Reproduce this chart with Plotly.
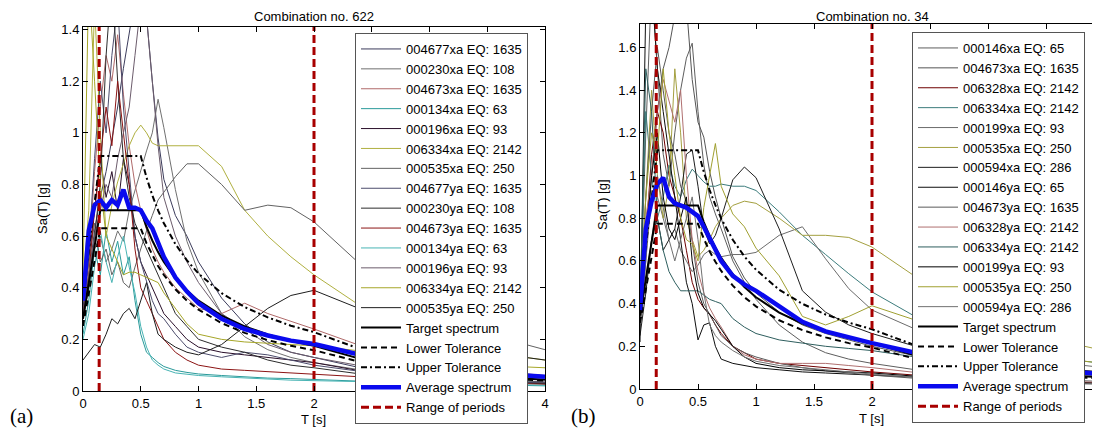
import plotly.graph_objects as go

# ---------------- data ----------------
T = [0, 0.05, 0.1, 0.15, 0.2, 0.25, 0.3, 0.35, 0.4, 0.45, 0.5,
     0.55, 0.6, 0.65, 0.7, 0.8, 0.9, 1.0, 1.2, 1.4, 1.6, 1.8, 2.0,
     2.5, 3.0, 3.5, 4.0]

PERIOD_RANGE = [0.14, 2.0]

X_TICKS = [0, 0.5, 1, 1.5, 2, 2.5, 3, 3.5, 4]
A_XTICK_TEXT = ["0", "0.5", "1", "1.5", "2", "", "", "", "4"]
B_XTICK_TEXT = ["0", "0.5", "1", "1.5", "2", "", "", "", ""]

# ---- (a) Combination no. 622 ----
A_NAMES = ["004677xa EQ: 1635", "000230xa EQ: 108", "004673xa EQ: 1635", "000134xa EQ: 63",
           "000196xa EQ: 93", "006334xa EQ: 2142", "000535xa EQ: 250", "004677ya EQ: 1635",
           "000230ya EQ: 108", "004673ya EQ: 1635", "000134ya EQ: 63", "000196ya EQ: 93",
           "006334ya EQ: 2142", "000535ya EQ: 250"]
A_COLORS = ["#3c3c5c", "#707070", "#b06a6a", "#2a9a9a", "#2a0f2a", "#b0b040", "#626262",
            "#4c4c6c", "#2c2c2c", "#8c1414", "#48b4b4", "#6c5c6c", "#a6a628", "#1e1e1e"]
A1 = [0.30,0.45,0.62,0.75,0.85,0.98,1.10,1.25,1.38,1.52,1.60, 1.45,1.20,0.98,0.82, 0.68,0.60,0.50, 0.36,0.26,0.19,0.15,0.13, 0.08,0.06,0.045,0.035]
A2 = [0.28,0.40,0.55,0.60,0.50,0.55,0.62,0.58,0.70,0.78,0.85, 0.93,1.00,1.13,1.02, 0.78,0.58,0.46, 0.30,0.21,0.16,0.13,0.11, 0.075,0.055,0.042,0.033]
A3 = [0.30,0.50,0.85,1.10,1.30,1.20,1.38,1.15,0.95,0.80,0.70, 0.62,0.55,0.50,0.46, 0.40,0.36,0.32, 0.30,0.34,0.30,0.27,0.24, 0.16,0.11,0.08,0.06]
A4 = [0.22,0.35,0.55,0.45,0.62,0.50,0.58,0.45,0.52,0.35,0.22, 0.15,0.13,0.11,0.095, 0.08,0.072,0.066, 0.06,0.055,0.05,0.048,0.045, 0.035,0.028,0.024,0.02]
A5 = [0.32,0.50,0.70,0.90,0.75,0.85,0.70,0.90,0.80,0.60,0.50, 0.45,0.40,0.35,0.30, 0.25,0.20,0.17, 0.15,0.14,0.13,0.12,0.11, 0.07,0.05,0.04,0.03]
A6 = [0.42,0.70,1.50,1.00,0.60,0.72,0.81,0.88,0.95,1.00,1.03, 1.00,0.96,0.95,0.95, 0.95,0.95,0.95, 0.87,0.70,0.60,0.52,0.45, 0.30,0.20,0.15,0.12]
A7 = [0.35,0.50,0.65,0.50,0.55,0.45,0.50,0.42,0.40,0.48,0.55, 0.62,0.68,0.74,0.77, 0.83,0.88,0.88, 0.80,0.70,0.72,0.71,0.655, 0.45,0.30,0.22,0.16]
A8 = [0.30,0.55,0.90,1.20,1.00,1.30,1.50,1.10,0.85,0.60,0.50, 0.42,0.35,0.30,0.28, 0.22,0.17,0.15, 0.13,0.15,0.14,0.12,0.10, 0.07,0.05,0.04,0.03]
A9 = [0.28,0.40,0.60,0.80,1.30,1.60,1.20,0.90,0.75,0.65,0.60, 0.55,0.50,0.45,0.40, 0.30,0.25,0.20, 0.17,0.15,0.12,0.10,0.09, 0.06,0.045,0.035,0.028]
A10 = [0.30,0.45,0.70,0.90,1.10,0.95,1.20,1.00,0.80,0.55,0.40, 0.35,0.30,0.25,0.20, 0.15,0.12,0.10, 0.085,0.08,0.075,0.07,0.065, 0.05,0.04,0.032,0.026]
A11 = [0.20,0.30,0.48,0.62,0.50,0.42,0.52,0.60,0.48,0.38,0.25, 0.17,0.12,0.10,0.085, 0.07,0.065,0.06, 0.055,0.05,0.045,0.042,0.04, 0.035,0.03,0.026,0.022]
A12 = [0.30,0.45,0.60,0.70,0.80,0.75,0.90,1.00,1.10,1.30,1.50, 1.45,1.20,0.95,0.75, 0.60,0.50,0.42, 0.30,0.24,0.18,0.15,0.13, 0.09,0.07,0.055,0.045]
A13 = [0.45,1.60,1.20,0.80,0.60,0.55,0.50,0.45,0.46,0.46,0.45, 0.44,0.43,0.42,0.38, 0.32,0.26,0.22, 0.20,0.19,0.185,0.18,0.175, 0.15,0.12,0.10,0.09]
A14 = [0.12,0.15,0.18,0.17,0.22,0.28,0.26,0.30,0.32,0.28,0.35, 0.42,0.30,0.22,0.20, 0.17,0.15,0.14, 0.18,0.25,0.32,0.37,0.39, 0.30,0.20,0.15,0.12]
A_SERIES = [A1, A2, A3, A4, A5, A6, A7, A8, A9, A10, A11, A12, A13, A14]
A_TARGET = [0.28,0.42,0.56,0.70,0.70,0.70,0.70,0.70,0.70,0.70,0.70, 0.636,0.583,0.538,0.50, 0.4375,0.389,0.35, 0.292,0.25,0.219,0.194,0.175, 0.112,0.078,0.057,0.044]
A_LOWER = [0.252,0.378,0.504,0.63,0.63,0.63,0.63,0.63,0.63,0.63,0.63, 0.572,0.525,0.484,0.45, 0.394,0.35,0.315, 0.263,0.225,0.197,0.175,0.158, 0.101,0.07,0.051,0.04]
A_UPPER = [0.364,0.546,0.728,0.91,0.91,0.91,0.91,0.91,0.91,0.91,0.91, 0.827,0.758,0.70,0.65, 0.569,0.506,0.455, 0.379,0.325,0.285,0.253,0.228, 0.146,0.101,0.074,0.057]
A_AVERAGE = [0.35,0.62,0.72,0.74,0.71,0.74,0.72,0.78,0.71,0.71,0.70, 0.66,0.63,0.58,0.52, 0.44,0.385,0.34, 0.28,0.24,0.215,0.195,0.182, 0.13,0.095,0.07,0.055]

# ---- (b) Combination no. 34 ----
B_NAMES = ["000146xa EQ: 65", "004673xa EQ: 1635", "006328xa EQ: 2142", "006334xa EQ: 2142",
           "000199xa EQ: 93", "000535xa EQ: 250", "000594xa EQ: 286", "000146ya EQ: 65",
           "004673ya EQ: 1635", "006328ya EQ: 2142", "006334ya EQ: 2142", "000199ya EQ: 93",
           "000535ya EQ: 250", "000594ya EQ: 286"]
B_COLORS = ["#5e5e5e", "#555555", "#6e0000", "#3c7c7c", "#6c6c6c", "#a4a040", "#1e1e1e",
            "#0e0e0e", "#5a5a5a", "#b07070", "#2e5e5e", "#000000", "#a0a030", "#707070"]
B1 = [0.35,1.20,1.90,1.50,1.10,0.95,1.20,1.40,1.55,1.62,1.30, 1.05,0.90,0.82,0.75, 0.60,0.50,0.42, 0.30,0.22,0.17,0.14,0.12, 0.08,0.06,0.045,0.035]
B2 = [0.30,0.60,1.00,1.30,1.50,1.60,1.75,1.85,1.80,1.45,1.25, 1.18,1.02,0.90,0.80, 0.62,0.52,0.45, 0.36,0.30,0.26,0.23,0.20, 0.14,0.10,0.08,0.06]
B3 = [0.30,0.70,1.10,1.30,1.20,1.00,0.90,0.80,0.65,0.50,0.42, 0.38,0.35,0.30,0.26, 0.20,0.17,0.14, 0.12,0.11,0.10,0.09,0.08, 0.06,0.045,0.035,0.028]
B4 = [0.40,1.30,1.00,0.80,0.90,1.05,0.95,0.90,0.98,1.03,1.00, 0.97,0.95,0.95,0.96, 0.95,0.95,0.93, 0.83,0.72,0.63,0.54,0.455, 0.30,0.20,0.15,0.12]
B5 = [0.30,0.50,0.70,0.90,0.80,0.70,0.75,0.65,0.60,0.55,0.58, 0.63,0.65,0.63,0.62, 0.63,0.63,0.64, 0.72,0.76,0.61,0.47,0.37, 0.25,0.17,0.13,0.10]
B6 = [0.40,0.90,1.40,1.00,0.80,0.95,1.50,1.20,0.80,0.70,0.62, 0.65,0.70,0.76,0.80, 0.86,0.88,0.87, 0.80,0.72,0.72,0.71,0.665, 0.48,0.33,0.24,0.18]
B7 = [0.25,0.45,0.70,0.80,0.65,0.70,0.75,0.90,1.10,1.12,0.95, 0.75,0.68,0.72,0.80, 0.98,1.04,0.99, 0.75,0.46,0.36,0.30,0.26, 0.18,0.13,0.10,0.08]
B8 = [0.22,1.80,1.90,1.50,1.30,1.10,0.90,0.70,0.50,0.40,0.23, 0.30,0.31,0.20,0.14, 0.12,0.11,0.10, 0.09,0.08,0.075,0.07,0.065, 0.05,0.04,0.03,0.025]
B9 = [0.35,0.90,1.30,1.60,1.40,1.20,1.10,0.95,0.88,0.70,0.50, 0.40,0.35,0.30,0.25, 0.20,0.17,0.15, 0.12,0.10,0.085,0.075,0.065, 0.045,0.035,0.028,0.022]
B10 = [0.40,0.80,1.00,1.30,1.45,1.35,1.25,1.40,1.00,0.70,0.55, 0.45,0.38,0.33,0.29, 0.20,0.16,0.14, 0.12,0.12,0.12,0.11,0.10, 0.07,0.05,0.04,0.03]
B11 = [0.38,1.50,1.30,0.80,0.65,0.55,0.50,0.46,0.46,0.46,0.46, 0.44,0.42,0.41,0.40, 0.33,0.29,0.26, 0.23,0.215,0.20,0.19,0.18, 0.14,0.11,0.09,0.07]
B12 = [0.30,0.70,1.00,1.20,0.90,0.75,0.70,0.80,0.90,0.60,0.45, 0.38,0.35,0.32,0.28, 0.20,0.15,0.12, 0.10,0.09,0.085,0.08,0.075, 0.055,0.04,0.032,0.026]
B13 = [0.40,0.90,1.20,1.10,1.50,1.20,1.00,0.80,0.70,0.68,0.60, 0.85,1.00,1.15,0.95, 0.82,0.76,0.66, 0.53,0.34,0.30,0.34,0.39, 0.30,0.20,0.15,0.12]
B14 = [0.30,0.60,0.90,1.00,0.85,0.70,0.60,0.70,0.80,0.90,0.70, 0.45,0.30,0.25,0.22, 0.18,0.15,0.13, 0.11,0.10,0.09,0.08,0.07, 0.05,0.04,0.03,0.025]
B_SERIES = [B1, B2, B3, B4, B5, B6, B7, B8, B9, B10, B11, B12, B13, B14]
B_TARGET = [0.344,0.516,0.688,0.86,0.86,0.86,0.86,0.86,0.86,0.86,0.86, 0.782,0.717,0.662,0.614, 0.5375,0.478,0.43, 0.358,0.307,0.269,0.239,0.215, 0.138,0.096,0.070,0.054]
B_LOWER = [0.31,0.464,0.619,0.774,0.774,0.774,0.774,0.774,0.774,0.774,0.774, 0.704,0.645,0.596,0.553, 0.484,0.43,0.387, 0.322,0.276,0.242,0.215,0.194, 0.124,0.086,0.063,0.048]
B_UPPER = [0.447,0.671,0.894,1.118,1.118,1.118,1.118,1.118,1.118,1.118,1.118, 1.017,0.932,0.861,0.798, 0.699,0.621,0.559, 0.465,0.399,0.349,0.311,0.28, 0.179,0.125,0.091,0.07]
B_AVERAGE = [0.37,0.75,0.88,0.96,0.99,0.90,0.87,0.86,0.85,0.83,0.81, 0.76,0.71,0.66,0.60, 0.53,0.49,0.46, 0.39,0.315,0.27,0.24,0.215, 0.155,0.115,0.09,0.07]

A_YMAX = 1.41
B_YMAX = 1.71

# ---------------- figure ----------------
FONT = "Arial, Liberation Sans, sans-serif"
fig = go.Figure()


def add_panel(names, colors, series, target, lower, upper, avg, ymax, xa, ya, leg):
    for nm, col, vals in zip(names, colors, series):
        fig.add_trace(go.Scatter(x=T, y=vals, mode="lines", name=nm,
                                 line=dict(color=col, width=1), xaxis=xa, yaxis=ya, legend=leg))
    fig.add_trace(go.Scatter(x=T, y=target, mode="lines", name="Target spectrum",
                             line=dict(color="black", width=2), xaxis=xa, yaxis=ya, legend=leg))
    fig.add_trace(go.Scatter(x=T, y=lower, mode="lines", name="Lower Tolerance",
                             line=dict(color="black", width=2, dash="6px,4px"), xaxis=xa, yaxis=ya, legend=leg))
    fig.add_trace(go.Scatter(x=T, y=upper, mode="lines", name="Upper Tolerance",
                             line=dict(color="black", width=2, dash="6px,3px,2px,3px"), xaxis=xa, yaxis=ya, legend=leg))
    fig.add_trace(go.Scatter(x=T, y=avg, mode="lines", name="Average spectrum",
                             line=dict(color="#0a0aee", width=4.5), xaxis=xa, yaxis=ya, legend=leg))
    fig.add_trace(go.Scatter(x=[PERIOD_RANGE[0], PERIOD_RANGE[0], None, PERIOD_RANGE[1], PERIOD_RANGE[1]],
                             y=[0, ymax, None, 0, ymax], mode="lines", name="Range of periods",
                             line=dict(color="#a80000", width=3, dash="8px,4px"), xaxis=xa, yaxis=ya, legend=leg))


add_panel(A_NAMES, A_COLORS, A_SERIES, A_TARGET, A_LOWER, A_UPPER, A_AVERAGE, A_YMAX, "x", "y", "legend")
add_panel(B_NAMES, B_COLORS, B_SERIES, B_TARGET, B_LOWER, B_UPPER, B_AVERAGE, B_YMAX, "x2", "y2", "legend2")

# page body has an 8 px margin, so the figure is placed at (8, 8) in the window
OFF = 8
W, H = 1100 - OFF, 439 - OFF


def fx(px):
    return (px - OFF) / W


def fy(py):
    return 1 - (py - OFF) / H


axis_common = dict(showgrid=False, zeroline=False, showline=True, linecolor="black", linewidth=1,
                   mirror="ticks", ticks="inside", ticklen=5, tickcolor="black",
                   tickfont=dict(family=FONT, size=13, color="black"))

legend_common = dict(xanchor="left", yanchor="top", bgcolor="white", bordercolor="#555555",
                     borderwidth=1, font=dict(family=FONT, size=13, color="black"),
                     itemwidth=40, traceorder="normal")

fig.update_layout(
    width=W, height=H, margin=dict(l=0, r=0, t=0, b=0, autoexpand=False),
    paper_bgcolor="white", plot_bgcolor="white", showlegend=True,
    xaxis=dict(domain=[fx(83), fx(545)], range=[0, 4], tickvals=X_TICKS, ticktext=A_XTICK_TEXT,
               anchor="y", **axis_common),
    yaxis=dict(domain=[fy(391), fy(27)], range=[0, A_YMAX], dtick=0.2, anchor="x", **axis_common),
    xaxis2=dict(domain=[fx(640), 1.0], range=[0, (1100 - 640) / 116], tickvals=X_TICKS, ticktext=B_XTICK_TEXT,
                anchor="y2", **axis_common),
    yaxis2=dict(domain=[fy(389), fy(24)], range=[0, B_YMAX], dtick=0.2, anchor="x2", **axis_common),
    legend=dict(x=fx(355), y=fy(33), **legend_common),
    legend2=dict(x=fx(912), y=fy(32), **legend_common),
)

# (text, x px, y px, font size, family, rotation, vertical anchor)
ann = [
    ("Combination no. 622", 314, 8.5, 13, FONT, 0, "top"),
    ("Combination no. 34", 872, 8, 13, FONT, 0, "top"),
    ("Sa(T) [g]", 42, 209, 13, FONT, -90, "middle"),
    ("Sa(T) [g]", 602, 205, 13, FONT, -90, "middle"),
    ("T [s]", 313, 419, 13, FONT, 0, "middle"),
    ("T [s]", 871, 418, 13, FONT, 0, "middle"),
    ("(a)", 21, 416, 21, "Liberation Serif, Times New Roman, serif", 0, "middle"),
    ("(b)", 583, 416, 21, "Liberation Serif, Times New Roman, serif", 0, "middle"),
]
for txt, px, py, fs, fam, rot, va in ann:
    fig.add_annotation(text=txt, x=fx(px), y=fy(py), xref="paper", yref="paper",
                       showarrow=False, xanchor="center", yanchor=va, textangle=rot,
                       borderpad=0, font=dict(family=fam, size=fs, color="black"))

fig.write_html("out.html")
